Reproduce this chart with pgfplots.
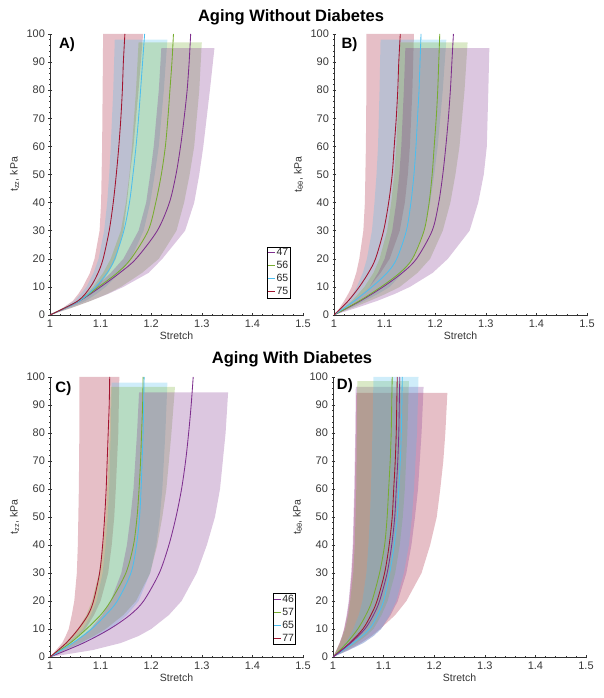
\documentclass[border=0pt]{standalone}
\usepackage{fontspec}
\setmainfont{Liberation Sans}
\usepackage{pgfplots}
\pgfplotsset{compat=1.18}
\definecolor{mpurple}{HTML}{7E2F8E}
\definecolor{mgreen}{HTML}{77AC30}
\definecolor{mcyan}{HTML}{4DBEEE}
\definecolor{mred}{HTML}{A2142F}
\pgfplotsset{
  panel/.style={
    scale only axis, width=253pt, height=281pt,
    xmin=1, xmax=1.5, ymin=0, ymax=100,
    axis lines=left, axis line style={-, black!80, line width=0.5pt},
    xtick={1,1.1,1.2,1.3,1.4,1.5}, ytick={0,10,...,100},
    minor x tick num=4, minor y tick num=4,
    major tick length=3pt, minor tick length=1.6pt,
    tick style={black!80, line width=0.4pt},
    /pgf/number format/assume math mode=true,
    /pgf/number format/fixed,
    tick label style={font=\fontsize{11}{12}\selectfont, text=black!78},
    label style={font=\fontsize{10.5}{12}\selectfont, text=black!80},
    xlabel={Stretch},
    xlabel style={at={(axis description cs:0.5,-0.075)}, anchor=center},
    ylabel style={at={(axis description cs:-0.14,0.5)}, anchor=center},
    clip mode=individual,
  },
  band/.style={draw=none, fill=#1, fill opacity=0.27, forget plot},
  mline/.style={color=#1, draw=#1, line width=0.85pt, smooth, mark=none},
  legend image code/.code={\draw[#1] (0pt,0pt) -- (7pt,0pt);},
  leg/.style={legend style={at={#1}, anchor=south east, draw=black, line width=0.6pt,
    font=\fontsize{10.5}{12}\selectfont, inner sep=1pt, row sep=3pt,
    nodes={inner sep=0.6pt, text=black!85}}, legend cell align=left},
}
\begin{document}
\begin{tikzpicture}
\path[use as bounding box] (0,0) rectangle (604pt,698pt);
\node[font=\bfseries\fontsize{16.5}{18}\selectfont] at (291pt,680.5pt) {Aging Without Diabetes};
\node[font=\bfseries\fontsize{16.5}{18}\selectfont] at (292pt,339pt) {Aging With Diabetes};

% ---------------- Panel A ----------------
\begin{axis}[panel, at={(50pt,383pt)}, anchor=south west,
  ylabel={t\textsubscript{zz}, kPa}, leg={(rel axis cs:0.949,0.06)}]
\addplot[band=mred] coordinates {(1,0)(1.032,2.5)(1.06,5)(1.08,7.5)(1.095,10)(1.115,15)(1.13,20)(1.145,30)(1.152,40)(1.158,50)(1.165,60)(1.175,80)(1.184,100)
  (1.105,100)(1.104,80)(1.103,60)(1.101,40)(1.098,30)(1.088,20)(1.079,15)(1.065,10)(1.056,7.5)(1.045,5)(1.025,2.5)(1,0)};
\addplot[band=mcyan] coordinates {(1,0)(1.037,2.5)(1.07,5)(1.092,7.5)(1.11,10)(1.138,15)(1.16,20)(1.185,30)(1.198,40)(1.207,50)(1.215,60)(1.225,80)(1.232,98)
  (1.128,98)(1.125,80)(1.12,60)(1.117,50)(1.113,40)(1.107,30)(1.096,20)(1.086,15)(1.072,10)(1.061,7.5)(1.048,5)(1.026,2.5)(1,0)};
\addplot[band=mgreen] coordinates {(1,0)(1.042,2.5)(1.08,5)(1.113,7.5)(1.14,10)(1.182,15)(1.215,20)(1.25,30)(1.265,40)(1.276,50)(1.285,60)(1.295,80)(1.30,97)
  (1.175,97)(1.17,80)(1.162,60)(1.157,50)(1.15,40)(1.14,30)(1.12,20)(1.105,15)(1.085,10)(1.071,7.5)(1.055,5)(1.03,2.5)(1,0)};
\addplot[band=mpurple] coordinates {(1,0)(1.042,2.5)(1.08,5)(1.115,7.5)(1.145,10)(1.195,15)(1.222,20)(1.267,30)(1.285,40)(1.295,50)(1.303,60)(1.316,80)(1.325,95)
  (1.22,95)(1.215,80)(1.205,60)(1.198,50)(1.19,40)(1.175,30)(1.145,20)(1.12,15)(1.09,10)(1.074,7.5)(1.055,5)(1.03,2.5)(1,0)};
\addplot[mline=mpurple] coordinates {(1,0)(1.058,5)(1.10,10)(1.138,15)(1.17,20)(1.212,30)(1.236,40)(1.249,50)(1.258,60)(1.265,70)(1.271,80)(1.275,90)(1.278,100)};
\addlegendentry{47}
\addplot[mline=mgreen] coordinates {(1,0)(1.057,5)(1.096,10)(1.133,15)(1.16,20)(1.194,30)(1.209,40)(1.22,50)(1.228,60)(1.233,70)(1.237,80)(1.241,90)(1.244,100)};
\addlegendentry{56}
\addplot[mline=mcyan] coordinates {(1,0)(1.058,5)(1.09,10)(1.113,15)(1.128,20)(1.146,30)(1.157,40)(1.164,50)(1.17,60)(1.175,70)(1.179,80)(1.183,90)(1.187,100)};
\addlegendentry{65}
\addplot[mline=mred] coordinates {(1,0)(1.055,5)(1.08,10)(1.095,15)(1.105,20)(1.117,30)(1.125,40)(1.131,50)(1.136,60)(1.14,70)(1.143,80)(1.145,90)(1.148,100)};
\addlegendentry{75}
\node[font=\bfseries\fontsize{15}{16}\selectfont, anchor=center] at (rel axis cs:0.067,0.962) {A)};
\end{axis}

% ---------------- Panel B ----------------
\begin{axis}[panel, at={(334pt,383pt)}, anchor=south west,
  ylabel={t\textsubscript{θθ}, kPa}]
\addplot[band=mred] coordinates {(1,0)(1.021,2.5)(1.04,5)(1.056,7.5)(1.07,10)(1.092,15)(1.11,20)(1.13,30)(1.14,40)(1.146,50)(1.15,60)(1.155,80)(1.158,100)
  (1.064,100)(1.064,80)(1.063,60)(1.061,40)(1.058,30)(1.05,20)(1.044,15)(1.035,10)(1.028,7.5)(1.02,5)(1.011,2.5)(1,0)};
\addplot[band=mcyan] coordinates {(1,0)(1.031,2.5)(1.06,5)(1.087,7.5)(1.11,10)(1.136,15)(1.155,20)(1.178,30)(1.19,40)(1.198,50)(1.205,60)(1.215,80)(1.222,98)
  (1.092,98)(1.09,80)(1.087,60)(1.084,50)(1.08,40)(1.075,30)(1.065,20)(1.057,15)(1.045,10)(1.037,7.5)(1.027,5)(1.014,2.5)(1,0)};
\addplot[band=mgreen] coordinates {(1,0)(1.036,2.5)(1.07,5)(1.102,7.5)(1.13,10)(1.165,15)(1.19,20)(1.215,30)(1.23,40)(1.24,50)(1.248,60)(1.258,80)(1.264,97)
  (1.13,97)(1.128,80)(1.123,60)(1.119,50)(1.113,40)(1.105,30)(1.09,20)(1.078,15)(1.06,10)(1.048,7.5)(1.035,5)(1.018,2.5)(1,0)};
\addplot[band=mpurple] coordinates {(1,0)(1.044,2.5)(1.085,5)(1.12,7.5)(1.15,10)(1.195,15)(1.225,20)(1.268,30)(1.285,40)(1.296,50)(1.302,60)(1.305,80)(1.307,95)
  (1.141,95)(1.138,80)(1.133,60)(1.129,50)(1.123,40)(1.115,30)(1.1,20)(1.087,15)(1.07,10)(1.056,7.5)(1.04,5)(1.021,2.5)(1,0)};
\addplot[mline=mpurple] coordinates {(1,0)(1.052,5)(1.097,10)(1.135,15)(1.163,20)(1.194,30)(1.207,40)(1.215,50)(1.221,60)(1.226,70)(1.23,80)(1.233,90)(1.236,100)};
\addplot[mline=mgreen] coordinates {(1,0)(1.05,5)(1.093,10)(1.13,15)(1.155,20)(1.178,30)(1.188,40)(1.194,50)(1.198,60)(1.202,70)(1.205,80)(1.207,90)(1.209,100)};
\addplot[mline=mcyan] coordinates {(1,0)(1.04,5)(1.075,10)(1.105,15)(1.124,20)(1.143,30)(1.152,40)(1.158,50)(1.162,60)(1.165,70)(1.168,80)(1.17,90)(1.172,100)};
\addplot[mline=mred] coordinates {(1,0)(1.028,5)(1.05,10)(1.068,15)(1.082,20)(1.098,30)(1.108,40)(1.115,50)(1.119,60)(1.123,70)(1.126,80)(1.128,90)(1.131,100)};
\node[font=\bfseries\fontsize{15}{16}\selectfont, anchor=center] at (rel axis cs:0.061,0.962) {B)};
\end{axis}

% ---------------- Panel C ----------------
\begin{axis}[panel, at={(50pt,41pt)}, anchor=south west, height=280pt,
  ylabel={t\textsubscript{zz}, kPa}, leg={(rel axis cs:0.972,0.043)}]
\addplot[band=mred] coordinates {(1,0)(1.021,2.5)(1.04,5)(1.056,7.5)(1.07,10)(1.087,15)(1.1,20)(1.115,30)(1.122,40)(1.127,50)(1.13,60)(1.135,80)(1.137,100)
  (1.058,100)(1.058,80)(1.057,60)(1.055,40)(1.053,30)(1.048,20)(1.043,15)(1.037,10)(1.031,7.5)(1.024,5)(1.012,2.5)(1,0)};
\addplot[band=mcyan] coordinates {(1,0)(1.033,2.5)(1.065,5)(1.095,7.5)(1.12,10)(1.152,15)(1.175,20)(1.198,30)(1.21,40)(1.217,50)(1.222,60)(1.228,80)(1.232,98)
  (1.122,98)(1.12,80)(1.117,60)(1.114,50)(1.11,40)(1.104,30)(1.092,20)(1.081,15)(1.065,10)(1.051,7.5)(1.035,5)(1.018,2.5)(1,0)};
\addplot[band=mgreen] coordinates {(1,0)(1.03,2.5)(1.06,5)(1.087,7.5)(1.11,10)(1.145,15)(1.17,20)(1.198,30)(1.212,40)(1.222,50)(1.23,60)(1.24,80)(1.247,96.5)
  (1.12,96.5)(1.118,80)(1.113,60)(1.11,50)(1.105,40)(1.097,30)(1.083,20)(1.072,15)(1.055,10)(1.043,7.5)(1.03,5)(1.015,2.5)(1,0)};
\addplot[band=mpurple] coordinates {(1,0)(1.085,2.5)(1.14,5)(1.175,7.5)(1.2,10)(1.235,15)(1.26,20)(1.29,30)(1.31,40)(1.326,50)(1.336,60)(1.347,80)(1.352,94.5)
  (1.176,94.5)(1.172,80)(1.165,60)(1.159,50)(1.152,40)(1.141,30)(1.12,20)(1.103,15)(1.08,10)(1.064,7.5)(1.045,5)(1.023,2.5)(1,0)};
\addplot[mline=mpurple] coordinates {(1,0)(1.066,5)(1.118,10)(1.158,15)(1.185,20)(1.216,30)(1.235,40)(1.249,50)(1.26,60)(1.268,70)(1.274,80)(1.279,90)(1.283,100)};
\addlegendentry{46}
\addplot[mline=mgreen] coordinates {(1,0)(1.04,5)(1.072,10)(1.1,15)(1.12,20)(1.15,30)(1.165,40)(1.172,50)(1.176,60)(1.179,70)(1.181,80)(1.183,90)(1.184,100)};
\addlegendentry{57}
\addplot[mline=mcyan] coordinates {(1,0)(1.045,5)(1.082,10)(1.11,15)(1.133,20)(1.16,30)(1.171,40)(1.177,50)(1.18,60)(1.182,70)(1.184,80)(1.185,90)(1.186,100)};
\addlegendentry{65}
\addplot[mline=mred] coordinates {(1,0)(1.032,5)(1.056,10)(1.075,15)(1.086,20)(1.098,30)(1.104,40)(1.108,50)(1.111,60)(1.113,70)(1.115,80)(1.117,90)(1.118,100)};
\addlegendentry{77}
\node[font=\bfseries\fontsize{15}{16}\selectfont, anchor=center] at (rel axis cs:0.053,0.957) {C)};
\end{axis}

% ---------------- Panel D ----------------
\begin{axis}[panel, at={(333pt,41pt)}, anchor=south west, height=280pt,
  ylabel={t\textsubscript{θθ}, kPa}]
\node[font=\bfseries\fontsize{15}{16}\selectfont, anchor=center] at (rel axis cs:0.047,0.968) {D)};
\addplot[band=mred] coordinates {(1,0)(1.03,2.5)(1.055,5)(1.076,7.5)(1.093,10)(1.123,15)(1.145,20)(1.175,30)(1.192,40)(1.205,50)(1.212,60)(1.218,70)(1.222,80)(1.226,94.3)
  (1.046,94.3)(1.045,80)(1.043,60)(1.04,40)(1.037,30)(1.032,20)(1.028,15)(1.022,10)(1.018,7.5)(1.013,5)(1.007,2.5)(1,0)};
\addplot[band=mpurple] coordinates {(1,0)(1.032,2.5)(1.06,5)(1.08,7.5)(1.095,10)(1.114,15)(1.128,20)(1.145,30)(1.155,40)(1.162,50)(1.168,60)(1.175,80)(1.179,96.5)
  (1.045,96.5)(1.044,80)(1.042,60)(1.039,40)(1.036,30)(1.031,20)(1.027,15)(1.022,10)(1.018,7.5)(1.013,5)(1.007,2.5)(1,0)};
\addplot[band=mgreen] coordinates {(1,0)(1.025,2.5)(1.047,5)(1.065,7.5)(1.08,10)(1.096,15)(1.108,20)(1.123,30)(1.132,40)(1.138,50)(1.142,60)(1.147,80)(1.15,98.5)
  (1.048,98.5)(1.047,80)(1.046,60)(1.043,40)(1.04,30)(1.034,20)(1.03,15)(1.024,10)(1.019,7.5)(1.014,5)(1.007,2.5)(1,0)};
\addplot[band=mcyan] coordinates {(1,0)(1.032,2.5)(1.06,5)(1.08,7.5)(1.095,10)(1.112,15)(1.125,20)(1.14,30)(1.15,40)(1.156,50)(1.16,60)(1.166,80)(1.169,100)
  (1.08,100)(1.078,80)(1.075,60)(1.073,50)(1.07,40)(1.066,30)(1.058,20)(1.051,15)(1.04,10)(1.033,7.5)(1.024,5)(1.012,2.5)(1,0)};
\addplot[mline=mgreen] coordinates {(1,0)(1.027,5)(1.049,10)(1.065,15)(1.077,20)(1.092,30)(1.102,40)(1.107,50)(1.11,60)(1.113,70)(1.115,80)(1.116,90)(1.117,100)};
\addplot[mline=mcyan] coordinates {(1,0)(1.04,5)(1.072,10)(1.088,15)(1.1,20)(1.112,30)(1.121,40)(1.127,50)(1.13,60)(1.133,70)(1.135,80)(1.136,90)(1.137,100)};
\addplot[mline=mred] coordinates {(1,0)(1.033,5)(1.059,10)(1.075,15)(1.087,20)(1.102,30)(1.111,40)(1.117,50)(1.12,60)(1.123,70)(1.125,80)(1.126,90)(1.127,100)};
\addplot[mline=mpurple] coordinates {(1,0)(1.035,5)(1.063,10)(1.08,15)(1.092,20)(1.107,30)(1.116,40)(1.122,50)(1.125,60)(1.128,70)(1.13,80)(1.131,90)(1.132,100)};
\end{axis}
\end{tikzpicture}
\end{document}
